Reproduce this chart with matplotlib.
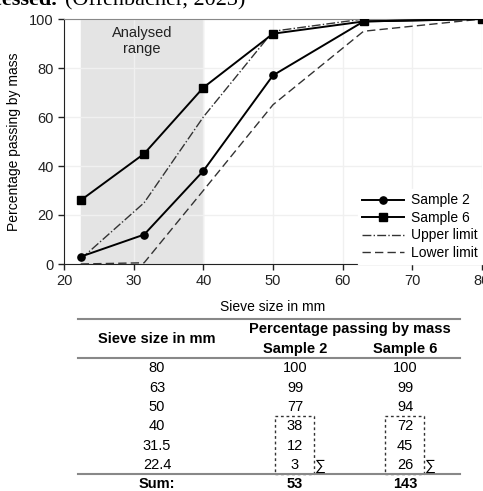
import matplotlib.pyplot as plt
from matplotlib.lines import Line2D
from matplotlib.patches import Rectangle

# sieve sizes (mm) and percentage passing by mass
sieve = [22.4, 31.5, 40, 50, 63, 80]
sample2 = [3, 12, 38, 77, 99, 100]
sample6 = [26, 45, 72, 94, 99, 100]
upper = [2, 25, 60, 95, 100, 100]
lower = [0, 0.5, 30, 65, 95, 100]
xticks = [20, 30, 40, 50, 60, 70, 80]
yticks = [0, 20, 40, 60, 80, 100]
table_sieve = ['80', '63', '50', '40', '31.5', '22.4']

plt.rcParams['font.family'] = ['Liberation Sans', 'DejaVu Sans']

W, H = 483, 491
fig = plt.figure(figsize=(W / 100, H / 100), dpi=100)
ax = fig.add_axes([64 / W, 1 - 264 / H, (482 - 64) / W, (264 - 19) / H])

ax.axvspan(22.4, 40, color='#e4e4e4', zorder=0)
ax.text(31.2, 97, 'Analysed\nrange', ha='center', va='top', fontsize=10.5, color='#222222', linespacing=1.15)

ax.plot(sieve, sample2, '-o', color='black', lw=1.4, ms=5.2, label='Sample 2', zorder=3)
ax.plot(sieve, sample6, '-s', color='black', lw=1.4, ms=5.8, label='Sample 6', zorder=3)
ax.plot(sieve, upper, '-.', color='#333333', lw=1.0, label='Upper limit', zorder=2)
ax.plot(sieve, lower, '--', color='#333333', lw=1.0, dashes=(6, 3), label='Lower limit', zorder=2)

ax.set_xlim(20, 80)
ax.set_ylim(0, 100)
ax.set_xticks(xticks)
ax.set_yticks(yticks)
ax.grid(True, color='#f0f0f0', lw=1.0, zorder=0)
ax.set_axisbelow(True)
ax.tick_params(labelsize=10.5, length=4, width=1, colors='#222222', direction='out')
ax.spines['right'].set_visible(False)
ax.spines['top'].set_color('#888888')
ax.spines['left'].set_color('#222222')
ax.spines['bottom'].set_color('#222222')
ax.set_xlabel('Sieve size in mm', fontsize=10, labelpad=8)
ax.set_ylabel('Percentage passing by mass', fontsize=10, labelpad=6)

leg = ax.legend(loc='lower right', fontsize=10, frameon=True, fancybox=False, edgecolor='white',
                framealpha=1, handlelength=3.0, borderaxespad=0.0, borderpad=0.3,
                labelspacing=0.25, handletextpad=0.5)

# caption fragment cut at the top
fig.text(58 / W, 1 - 5 / H, 'processed.', family=['Liberation Serif'], fontsize=16, weight='bold',
         ha='right', va='baseline')
fig.text(65 / W, 1 - 5 / H, '(Offenbacher, 2023)', family=['Liberation Serif'], fontsize=16,
         ha='left', va='baseline')

# table below the chart
def fy(y):
    return 1 - y / H

def hline(y, lw=1.5):
    fig.add_artist(Line2D([78 / W, 460 / W], [fy(y), fy(y)], color='#888888', lw=lw))

hline(319)
hline(358)
hline(474)

c1, c2, c3 = 157 / W, 295 / W, 405 / W
fig.text(c1, fy(339), 'Sieve size in mm', ha='center', va='center', fontsize=10.5, weight='bold')
fig.text(350 / W, fy(329), 'Percentage passing by mass', ha='center', va='center', fontsize=10.5, weight='bold')
fig.text(c2, fy(349), 'Sample 2', ha='center', va='center', fontsize=10.5, weight='bold')
fig.text(c3, fy(349), 'Sample 6', ha='center', va='center', fontsize=10.5, weight='bold')

row_y = [368, 388, 407, 426, 446, 465]
s2_rows = sample2[::-1]
s6_rows = sample6[::-1]
for i, y in enumerate(row_y):
    fig.text(c1, fy(y), table_sieve[i], ha='center', va='center', fontsize=10.5)
    fig.text(c2, fy(y), str(s2_rows[i]), ha='center', va='center', fontsize=10.5)
    fig.text(c3, fy(y), str(s6_rows[i]), ha='center', va='center', fontsize=10.5)

fig.text(c1, fy(484), 'Sum:', ha='center', va='center', fontsize=10.5, weight='bold')
fig.text(c2, fy(484), str(sum(sample2[:3])), ha='center', va='center', fontsize=10.5, weight='bold')
fig.text(c3, fy(484), str(sum(sample6[:3])), ha='center', va='center', fontsize=10.5, weight='bold')

for x0, x1 in [(275, 314), (385, 424)]:
    fig.add_artist(Rectangle((x0 / W, fy(474)), (x1 - x0) / W, (474 - 416) / H, fill=False,
                             ls=(0, (2, 2)), lw=1.0, edgecolor='#333333'))
    fig.text((x1 + 6) / W, fy(466), '∑', ha='center', va='center', fontsize=11)

fig.savefig('out.png', dpi=100)
